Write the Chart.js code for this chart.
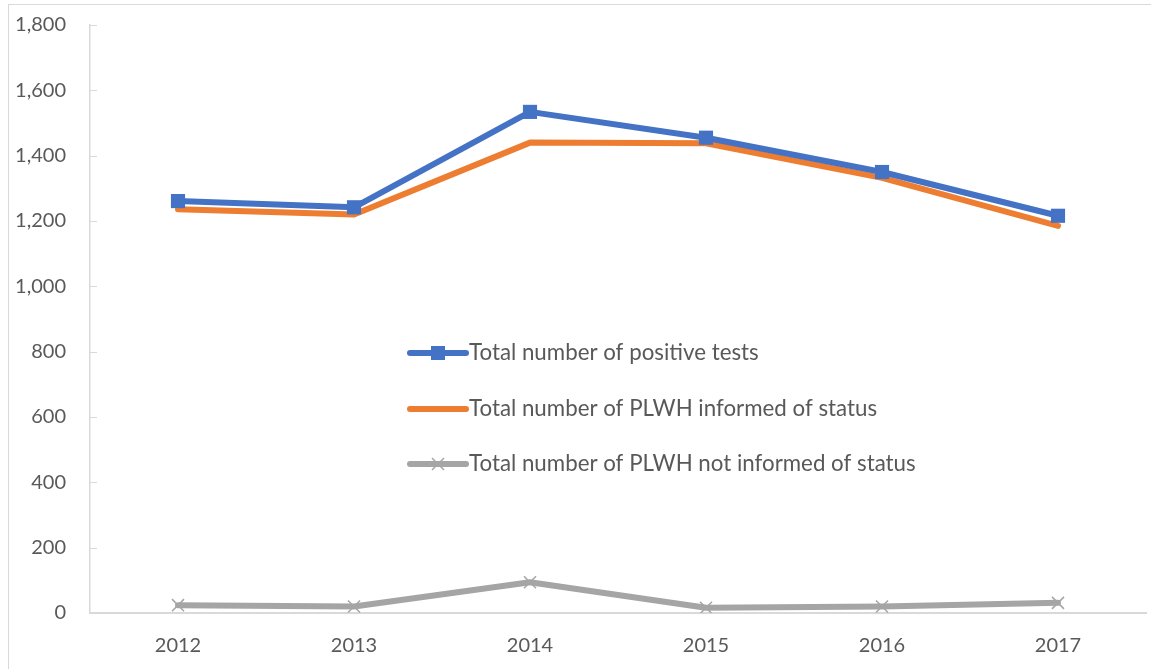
<!DOCTYPE html>
<html>
<head>
<meta charset="utf-8">
<script src="https://cdn.jsdelivr.net/npm/chart.js@4"></script>
<style>
  html, body { margin:0; padding:0; background:#fff; }
  #frame { position:absolute; left:8px; top:4px; width:1160px; height:700px; border:1px solid #d9d9d9; box-sizing:border-box; }
  #wrap { position:absolute; left:0; top:0; width:1151px; height:669px; }
</style>
</head>
<body>
<div id="frame"></div>
<div id="wrap"><canvas id="chart"></canvas></div>
<script>
const YEARS = ['2012','2013','2014','2015','2016','2017'];
const POSITIVE_TESTS = [1261, 1242, 1534, 1455, 1350, 1216];
const INFORMED = [1236, 1220, 1440, 1438, 1332, 1185];
const NOT_INFORMED = [24, 20, 94, 16, 20, 31];
const Y_TICKS = [0, 200, 400, 600, 800, 1000, 1200, 1400, 1600, 1800];

const FONT = 'Lato, "Liberation Sans", sans-serif';
const TEXT = '#595959';
const AXIS = '#d9d9d9';

// legend drawn inside the plot, like the Excel original
const insideLegend = {
  id: 'insideLegend',
  afterDatasetsDraw(chart){
    const ctx = chart.ctx;
    const x0 = 410, x1 = 466, tx = 469;
    const rows = [353, 409, 464];
    ctx.save();
    chart.data.datasets.forEach((ds, i) => {
      const y = rows[i];
      ctx.strokeStyle = ds.borderColor;
      ctx.lineWidth = 6;
      ctx.lineCap = 'round';
      ctx.beginPath(); ctx.moveTo(x0, y); ctx.lineTo(x1, y); ctx.stroke();
      const mid = (x0 + x1) / 2;
      if (ds.pointStyle === 'rect'){
        ctx.fillStyle = ds.pointBackgroundColor;
        ctx.fillRect(mid - 7, y - 7, 14, 14);
      } else if (ds.pointStyle === 'crossRot'){
        ctx.strokeStyle = ds.pointBorderColor;
        ctx.lineWidth = 1.5;
        ctx.lineCap = 'butt';
        ctx.beginPath();
        ctx.moveTo(mid - 6, y - 6); ctx.lineTo(mid + 6, y + 6);
        ctx.moveTo(mid - 6, y + 6); ctx.lineTo(mid + 6, y - 6);
        ctx.stroke();
      }
      ctx.fillStyle = TEXT;
      ctx.font = '22.3px ' + FONT;
      ctx.textBaseline = 'middle';
      ctx.textAlign = 'left';
      ctx.fillText(ds.label, tx, y);
    });
    ctx.restore();
  }
};

// small inward tick marks on the value axis
const yTickMarks = {
  id: 'yTickMarks',
  afterDraw(chart){
    const y = chart.scales.y, ctx = chart.ctx;
    ctx.save();
    ctx.strokeStyle = AXIS; ctx.lineWidth = 1;
    Y_TICKS.forEach(v => {
      const py = Math.round(y.getPixelForValue(v)) + 0.5;
      ctx.beginPath(); ctx.moveTo(y.right, py); ctx.lineTo(y.right + 7, py); ctx.stroke();
    });
    ctx.restore();
  }
};

new Chart(document.getElementById('chart'), {
  type: 'line',
  data: {
    labels: YEARS,
    datasets: [
      {
        label: 'Total number of positive tests',
        data: POSITIVE_TESTS,
        borderColor: '#4472c4', backgroundColor: '#4472c4',
        borderWidth: 6, tension: 0,
        borderCapStyle: 'round', borderJoinStyle: 'round',
        pointStyle: 'rect', pointRadius: 10, pointBackgroundColor: '#4472c4',
        pointBorderColor: '#4472c4', pointBorderWidth: 0, pointHoverRadius: 10
      },
      {
        label: 'Total number of PLWH informed of status',
        data: INFORMED,
        borderColor: '#ed7d31', backgroundColor: '#ed7d31',
        borderWidth: 6, tension: 0,
        borderCapStyle: 'round', borderJoinStyle: 'round',
        pointStyle: false, pointRadius: 0
      },
      {
        label: 'Total number of PLWH not informed of status',
        data: NOT_INFORMED,
        borderColor: '#a5a5a5', backgroundColor: '#a5a5a5',
        borderWidth: 6, tension: 0,
        borderCapStyle: 'round', borderJoinStyle: 'round',
        pointStyle: 'crossRot', pointRadius: 8.5,
        pointBorderColor: '#a5a5a5', pointBorderWidth: 1.5
      }
    ]
  },
  options: {
    responsive: true,
    maintainAspectRatio: false,
    animation: false,
    layout: { autoPadding: false, padding: { top: 25, right: 5, left: 0, bottom: 0 } },
    plugins: {
      legend: { display: false },
      tooltip: { enabled: false }
    },
    scales: {
      x: {
        offset: true,
        grid: { display: false, drawTicks: false },
        border: { display: true, color: AXIS, width: 2 },
        ticks: { color: TEXT, font: { family: FONT, size: 20 }, padding: 21 },
        afterFit(s){ s.height = 56; s.paddingLeft = 0; s.paddingRight = 0; }
      },
      y: {
        min: 0, max: 1800,
        afterBuildTicks(s){ s.ticks = Y_TICKS.map(v => ({ value: v })); },
        grid: { display: false, drawTicks: false },
        border: { display: true, color: AXIS, width: 1.5 },
        ticks: {
          color: TEXT, font: { family: FONT, size: 20 }, padding: 24,
          callback: v => v.toLocaleString('en-US')
        },
        afterFit(s){ s.width = 90; s.paddingTop = 0; s.paddingBottom = 0; }
      }
    }
  },
  plugins: [insideLegend, yTickMarks]
});
</script>
</body>
</html>
